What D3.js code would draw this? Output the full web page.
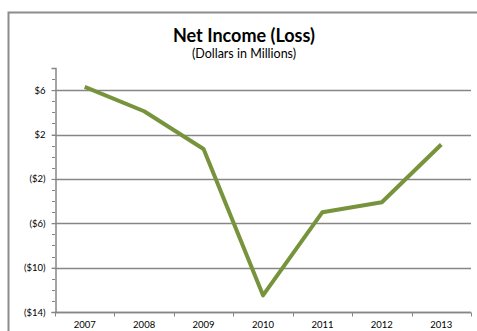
<!DOCTYPE html>
<html>
<head>
<meta charset="utf-8">
<script src="https://cdn.jsdelivr.net/npm/d3@7"></script>
<style>
  body { margin: 0; background: #fff; }
  text { font-family: Lato, "Open Sans", sans-serif; fill: #000; }
</style>
</head>
<body>
<div id="chart"></div>
<script>
// Data
let years = ["2007", "2008", "2009", "2010", "2011", "2012", "2013"];
let netIncome = [6.3, 4.1, 0.7, -12.5, -5.0, -4.1, 1.1];
let majorTicks = [6, 2, -2, -6, -10, -14];
let minorTicks = d3.range(-14, 9, 1);

var width = 477, height = 331;
var svg = d3.select('#chart').append('svg')
            .attr('width', width)
            .attr('height', height);

// Outer frame (only top and left visible)
svg.append('path')
   .attr('d', `M 8.5,${height} L 8.5,12.5 L ${width},12.5`)
   .attr('fill', 'none')
   .attr('stroke', '#8c8c8c')
   .attr('stroke-width', 2);

// Titles
svg.append('text')
   .attr('x', 244).attr('y', 42)
   .attr('text-anchor', 'middle')
   .attr('font-size', '18px')
   .attr('font-weight', 'bold')
   .text('Net Income (Loss)');
svg.append('text')
   .attr('x', 244).attr('y', 58)
   .attr('text-anchor', 'middle')
   .attr('font-size', '12.5px')
   .text('(Dollars in Millions)');

var x = d3.scaleBand().domain(years).range([55, 471]);
var y = d3.scaleLinear().domain([-14, 8]).range([312, 68]);

function money(v) {
  return v < 0 ? '($' + Math.abs(v) + ')' : '$' + v;
}

// Gridlines
svg.append('g')
   .selectAll('line')
   .data(majorTicks)
   .enter()
   .append('line')
   .attr('x1', 55).attr('x2', 471)
   .attr('y1', d => Math.round(y(d)) + 0.5)
   .attr('y2', d => Math.round(y(d)) + 0.5)
   .attr('stroke', '#868686')
   .attr('stroke-width', 1.5);

// Minor ticks on y axis
svg.append('g')
   .selectAll('line')
   .data(minorTicks)
   .enter()
   .append('line')
   .attr('x1', 52).attr('x2', 55)
   .attr('y1', d => Math.round(y(d)) + 0.5)
   .attr('y2', d => Math.round(y(d)) + 0.5)
   .attr('stroke', '#868686')
   .attr('stroke-width', 1);

// Y axis
var yAxis = svg.append('g')
   .attr('transform', 'translate(55.5,0)')
   .call(d3.axisLeft(y).tickValues(majorTicks).tickSize(4).tickPadding(6).tickFormat(money));
yAxis.select('.domain').attr('stroke', '#868686').attr('stroke-width', 1.5);
yAxis.selectAll('.tick line').attr('stroke', '#868686');
yAxis.selectAll('text').attr('font-size', '9.5px').attr('font-family', 'Lato, sans-serif');

// X axis with ticks between categories
var xAxis = svg.append('g')
   .attr('transform', 'translate(0,312.5)');
xAxis.append('line')
   .attr('x1', 55).attr('x2', 471)
   .attr('stroke', '#868686').attr('stroke-width', 1.5);
xAxis.selectAll('.xt')
   .data(years.concat(['end']))
   .enter()
   .append('line')
   .attr('x1', (d, i) => Math.round(x.range()[0] + i * x.step()) + 0.5)
   .attr('x2', (d, i) => Math.round(x.range()[0] + i * x.step()) + 0.5)
   .attr('y1', 0).attr('y2', 4)
   .attr('stroke', '#868686');
xAxis.selectAll('.xl')
   .data(years)
   .enter()
   .append('text')
   .attr('x', d => x(d) + x.bandwidth() / 2)
   .attr('y', 15)
   .attr('text-anchor', 'middle')
   .attr('font-size', '9.5px')
   .text(d => d);

// Line
var line = d3.line()
   .x((d, i) => x(years[i]) + x.bandwidth() / 2)
   .y(d => y(d));
svg.append('path')
   .datum(netIncome)
   .attr('d', line)
   .attr('fill', 'none')
   .attr('stroke', '#77933c')
   .attr('stroke-width', 4)
   .attr('stroke-linejoin', 'round');
</script>
</body>
</html>
